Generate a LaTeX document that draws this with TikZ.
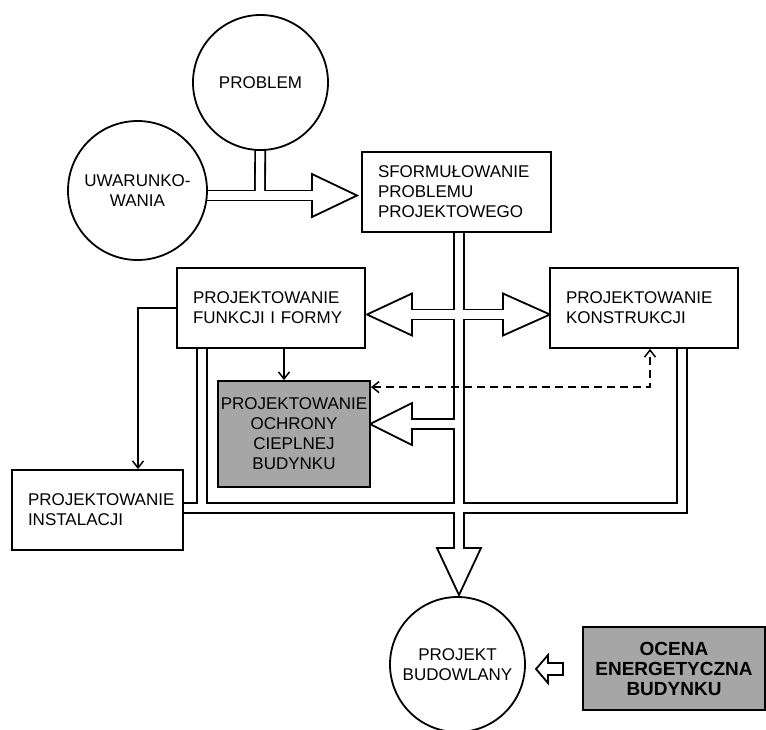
\documentclass[tikz,border=0pt]{standalone}
\usepackage{fontspec}
\setmainfont{Liberation Sans}
\usetikzlibrary{arrows.meta}
\pgfdeclarelayer{background}
\pgfsetlayers{background,main}

\begin{document}
\begin{tikzpicture}[x=1pt, y=-1pt,
	every node/.style={font=\fontsize{17}{20}\selectfont},
	box/.style={draw, line width=1.8pt, fill=white, inner xsep=16pt, inner ysep=0pt, align=left},
	ball/.style={draw, line width=1.8pt, circle, fill=white, inner sep=0pt, align=center},
	pipeout/.style={draw=black, line width=11.8pt, line join=miter},
	pipein/.style={draw=white, line width=8.2pt, line join=miter},
	head/.style={draw=black, line width=1.8pt, fill=white, line join=miter},
	link/.style={draw=black, line width=1.5pt},
	>={Straight Barb[length=7pt, width=11pt]}]
		\useasboundingbox (0,0) rectangle (766,729);

		\node[ball, minimum size=135pt] (prob) at (260.5,82.5) {PROBLEM};
		\node[ball, minimum size=139pt] (uwar) at (137.5,190.5) {UWARUNKO-\\WANIA};
		\node[box, text width=157pt, minimum height=80pt] (sform) at (456.5,192) {SFORMUŁOWANIE\\PROBLEMU\\PROJEKTOWEGO};
		\node[box, text width=156pt, minimum height=80pt] (funk) at (271,308) {PROJEKTOWANIE\\FUNKCJI I FORMY};
		\node[box, text width=156pt, minimum height=80pt] (konst) at (644,308) {PROJEKTOWANIE\\KONSTRUKCJI};
		\node[box, fill=black!35, inner xsep=2pt, minimum width=152pt, minimum height=106pt, align=center] (ochr) at (294,434) {PROJEKTOWANIE\\OCHRONY\\CIEPLNEJ\\BUDYNKU};
		\node[box, text width=139pt, minimum height=80pt] (inst) at (97.5,510) {PROJEKTOWANIE\\INSTALACJI};
		\node[ball, minimum size=135pt] (proj) at (457.5,664.5) {PROJEKT\\BUDOWLANY};
		\node[box, fill=black!35, inner xsep=0pt, minimum width=182pt, minimum height=83pt, align=center,
			font=\bfseries\fontsize{19}{20}\selectfont] (ocena) at (674,668.5) {OCENA\\ENERGETYCZNA\\BUDYNKU};

		\coordinate (tj) at (260,195.5);
		\coordinate (a1) at (312,195.5);
		\coordinate (cx) at (459,314.5);
		\coordinate (a2) at (412,314.5);
		\coordinate (a3) at (503,314.5);
		\coordinate (oj) at (459,424);
		\coordinate (a4) at (412,424);
		\coordinate (a5) at (459,548);
		\coordinate (bl) at (202,508);
		\coordinate (br) at (682,508);

		\begin{pgfonlayer}{background}
			% walls of the pipes
			\draw[pipeout] (prob.center) -- (tj);
			\draw[pipeout] (uwar.center |- tj) -- (a1);
			\draw[pipeout] (sform.south -| cx) -- (a5);
			\draw[pipeout] (a2) -- (a3);
			\draw[pipeout] (a4) -- (oj);
			\draw[pipeout] (funk.south -| bl) -- (bl);
			\draw[pipeout] (inst.east |- bl) -- (br) -- (konst.south -| br);

			% heads
			\draw[head] (312,174) -- (357,195.5) -- (312,217) -- cycle;
			\draw[head] (412,293.5) -- (367,314.5) -- (412,335.5) -- cycle;
			\draw[head] (503,293.5) -- (550,314.5) -- (503,335.5) -- cycle;
			\draw[head] (412,403) -- (370,424) -- (412,445) -- cycle;
			\draw[head] (437,548) -- (459,595) -- (481,548) -- cycle;

			% inside of the pipes
			\draw[pipein] (prob.center) -- (tj);
			\draw[pipein, shorten >=-4pt] (uwar.center |- tj) -- (a1);
			\draw[pipein, shorten >=-4pt] (sform.south -| cx) -- (a5);
			\draw[pipein, shorten >=-4pt, shorten <=-4pt] (a2) -- (a3);
			\draw[pipein, shorten <=-4pt] (a4) -- (oj);
			\draw[pipein] (funk.south -| bl) -- (bl);
			\draw[pipein] (inst.east |- bl) -- (br) -- (konst.south -| br);
		\end{pgfonlayer}

		\draw[link, ->] ([xshift=13pt]funk.south) -- ([xshift=-10pt]ochr.north);
		\draw[link, ->] (funk.west) -| ([xshift=40.5pt]inst.north);
		\draw[link, <->, dash pattern=on 8pt off 5pt] ([yshift=-7pt]ochr.north east) -| ([xshift=6pt]konst.south);

		\draw[head] (536,669) -- (548,655) -- (548,663) -- (563,663) -- (563,675) -- (548,675) -- (548,683) -- cycle;
	\end{tikzpicture}
\end{document}
